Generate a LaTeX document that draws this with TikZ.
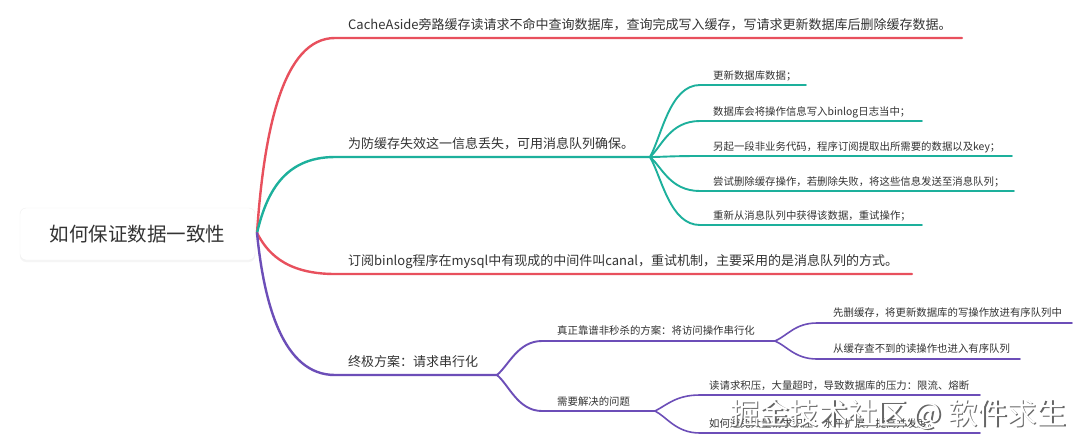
\documentclass[tikz,border=0pt]{standalone}
\usepackage{fontspec}
\setmainfont{Noto Sans CJK SC}
\usetikzlibrary{shadows}
\definecolor{cred}{HTML}{E8505D}
\definecolor{cteal}{HTML}{1DB09C}
\definecolor{cpurple}{HTML}{6C4EB8}
\definecolor{ctext}{HTML}{333333}
\tikzset{
  rootbox/.style={draw=black!6, fill=white, rounded corners=6pt, minimum width=235pt, minimum height=52pt, drop shadow={opacity=0.08, shadow xshift=0pt, shadow yshift=-2pt}, text=ctext, font=\fontsize{19.5}{22}\selectfont},
  lvone/.style={anchor=base west, inner sep=0pt, text=ctext, font=\fontsize{13}{15}\selectfont},
  lvtwo/.style={anchor=base west, inner sep=0pt, text=ctext, font=\fontsize{10.4}{12}\selectfont},
  wone/.style={line width=2.4pt, line cap=round},
  wtwo/.style={line width=1.9pt, line cap=round},
  wthree/.style={line width=1.6pt, line cap=round},
  wmark/.style={anchor=base west, inner sep=0pt, font=\fontsize{29.5}{31}\selectfont}
}
\begin{document}
\begin{tikzpicture}[x=1pt,y=-1pt]
\useasboundingbox (0,0) rectangle (1080,440);
\fill[white] (0,0) rectangle (1080,440);

% root
\node[rootbox] (rootn) at (137.5,234) {如何保证数据一致性};
\coordinate (root) at (257,233);

% level-1 coordinates
\coordinate (a1) at (335,38);  \coordinate (a1e) at (962,38);
\coordinate (a2) at (335,157); \coordinate (a2e) at (650,157);
\coordinate (a3) at (335,274); \coordinate (a3e) at (912,274);
\coordinate (a4) at (335,375); \coordinate (a4e) at (497,375);

\draw[wone,cred] (root) .. controls (264,130) and (283,38) .. (a1) -- (a1e);
\draw[wone,cteal] (root) .. controls (266,195) and (283,157) .. (a2) -- (a2e);
\draw[wone,cred] (root) .. controls (266,250) and (283,274) .. (a3) -- (a3e);
\draw[wone,cpurple] (root) .. controls (264,304) and (283,375) .. (a4) -- (a4e);

\node[lvone] (t1) at (348,29) {CacheAside旁路缓存读请求不命中查询数据库，查询完成写入缓存，写请求更新数据库后删除缓存数据。};
\node[lvone] (t2) at (348,148) {为防缓存失效这一信息丢失，可用消息队列确保。};
\node[lvone] (t3) at (348,265) {订阅binlog程序在mysql中有现成的中间件叫canal，重试机制，主要采用的是消息队列的方式。};
\node[lvone] (t4) at (348,366) {终极方案：请求串行化};

% teal sub-branches
\coordinate (b1) at (700,85);  \coordinate (b1e) at (806,85);
\coordinate (b2) at (700,121); \coordinate (b2e) at (922,121);
\coordinate (b3) at (700,156); \coordinate (b3e) at (1012,156);
\coordinate (b4) at (700,191); \coordinate (b4e) at (1014,191);
\coordinate (b5) at (700,225); \coordinate (b5e) at (922,225);
\draw[wtwo,cteal] (a2e) .. controls (662,135) and (670,85) .. (b1) -- (b1e);
\draw[wtwo,cteal] (a2e) .. controls (662,146) and (670,121) .. (b2) -- (b2e);
\draw[wtwo,cteal] (a2e) .. controls (662,157) and (670,156) .. (b3) -- (b3e);
\draw[wtwo,cteal] (a2e) .. controls (662,167) and (670,191) .. (b4) -- (b4e);
\draw[wtwo,cteal] (a2e) .. controls (662,178) and (670,225) .. (b5) -- (b5e);

\node[lvtwo] (t21) at (713,79) {更新数据库数据；};
\node[lvtwo] (t22) at (713,115) {数据库会将操作信息写入binlog日志当中；};
\node[lvtwo] (t23) at (713,150) {另起一段非业务代码，程序订阅提取出所需要的数据以及key；};
\node[lvtwo] (t24) at (713,185) {尝试删除缓存操作，若删除失败，将这些信息发送至消息队列；};
\node[lvtwo] (t25) at (713,219) {重新从消息队列中获得该数据，重试操作；};

% purple sub-branches
\coordinate (c1) at (542,341); \coordinate (c1e) at (775,341);
\coordinate (c2) at (542,411); \coordinate (c2e) at (655,411);
\draw[wtwo,cpurple] (a4e) .. controls (509,365) and (518,341) .. (c1) -- (c1e);
\draw[wtwo,cpurple] (a4e) .. controls (509,385) and (518,411) .. (c2) -- (c2e);
\node[lvtwo] (t41) at (557,334) {真正靠谱非秒杀的方案：将访问操作串行化};
\node[lvtwo] (t42) at (557,405) {需要解决的问题};

\coordinate (d1) at (817,323); \coordinate (d1e) at (1072,323);
\coordinate (d2) at (817,359); \coordinate (d2e) at (1020,359);
\draw[wthree,cpurple] (c1e) .. controls (787,336) and (795,323) .. (d1) -- (d1e);
\draw[wthree,cpurple] (c1e) .. controls (787,346) and (795,359) .. (d2) -- (d2e);
\node[lvtwo] (t411) at (833,316) {先删缓存，将更新数据库的写操作放进有序队列中};
\node[lvtwo] (t412) at (833,352) {从缓存查不到的读操作也进入有序队列};

\coordinate (e1) at (700,395); \coordinate (e1e) at (980,395);
\coordinate (e2) at (700,433); \coordinate (e2e) at (980,433);
\draw[wthree,cpurple] (c2e) .. controls (667,405) and (676,395) .. (e1) -- (e1e);
\draw[wthree,cpurple] (c2e) .. controls (667,417) and (676,433) .. (e2) -- (e2e);
\node[lvtwo] (t421) at (709,389) {读请求积压，大量超时，导致数据库的压力：限流、熔断};
\node[lvtwo] (t422) at (709,427) {如何避免大量请求积压：水平扩展，提高并发度。};

% watermark
\node[wmark,text=black!60] (wms) at (731.3,425.3) {掘金技术社区 @ 软件求生};
\node[wmark,text=white] (wm) at (730,424) {掘金技术社区 @ 软件求生};
\end{tikzpicture}
\end{document}
